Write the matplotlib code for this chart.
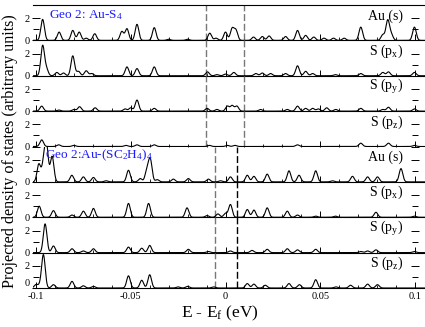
import numpy as np
import matplotlib
matplotlib.use("Agg")
import matplotlib.pyplot as plt
from matplotlib.ticker import MultipleLocator, FixedLocator

plt.rcParams['font.family'] = ['Liberation Serif', 'DejaVu Serif']
plt.rcParams['mathtext.fontset'] = 'custom'
plt.rcParams['mathtext.rm'] = 'Liberation Serif'
plt.rcParams['mathtext.it'] = 'Liberation Serif:italic'

# ---------------- data (peak positions in eV, heights in arb. units) -----------
labels = ["Au (s)", r"S (p$_\mathrm{x}$)", r"S (p$_\mathrm{y}$)", r"S (p$_\mathrm{z}$)"]
group_titles = [r"Geo 2: Au-S$_4$", r"Geo 2:Au-(SC$_2$H$_4$)$_4$"]

# Geo 2: Au-S4
top_au_s_pos = [-0.0965, -0.0878, -0.0806, -0.0772, -0.0735, -0.069, -0.0547, -0.052, -0.0467,
                -0.0376, -0.030, -0.020, -0.0083, -0.005, 0.0, 0.0035, 0.0055, 0.0148, 0.0194,
                0.023, 0.0317, 0.038, 0.0423, 0.0466, 0.052, 0.057, 0.0626, 0.0714, 0.083,
                0.0856, 0.0875, 0.0997]
top_au_s_h = [1.9, 0.75, 0.9, 0.75, 0.2, 0.6, 0.8, 1.05, 1.45,
              1.15, 0.1, 0.1, 0.65, 0.2, 0.75, 1.05, 0.9, 0.3, 0.35,
              0.4, 0.35, 0.9, 0.45, 0.3, 0.2, 0.2, 0.2, 1.2, 0.5,
              1.8, 0.5, 1.2]
top_s_px_pos = [-0.0965, -0.0945, -0.089, -0.0855, -0.0806, -0.0776, -0.0735, -0.0706, -0.052,
                -0.0467, -0.0376, -0.0095, -0.0045, 0.0, 0.0044, 0.016, 0.0194, 0.0238, 0.0317,
                0.038, 0.0423, 0.046, 0.058, 0.0714, 0.083, 0.086, 0.0997]
top_s_px_h = [2.7, 0.6, 0.3, 0.25, 1.8, 0.4, 0.45, 0.2, 0.8,
              0.65, 0.8, 0.35, 0.1, 0.15, 0.3, 0.2, 0.25, 0.2, 0.2,
              0.9, 0.4, 0.2, 0.1, 0.2, 0.3, 0.35, 0.3]
top_s_py_pos = [-0.097, -0.088, -0.08, -0.077, -0.0688, -0.053, -0.05, -0.0467, -0.0376, -0.0097,
                -0.0045, 0.001, 0.0035, 0.006, 0.0185, 0.0326, 0.038, 0.0423, 0.046, 0.049,
                0.0534, 0.0582, 0.0714, 0.083, 0.086, 0.0997]
top_s_py_h = [0.45, 0.1, 0.15, 0.4, 0.3, 0.2, 0.3, 1.0, 0.25, 0.25,
              0.15, 0.45, 0.5, 0.45, 0.15, 0.15, 0.45, 0.25, 0.25, 0.2,
              0.3, 0.15, 0.25, 0.15, 0.35, 0.2]
top_s_pz_pos = [-0.097, -0.088, -0.08, -0.0525, -0.0467, -0.0376, -0.0085, 0.001, 0.005, 0.038,
                0.0714, 0.086, 0.0997]
top_s_pz_h = [0.6, 0.15, 0.1, 0.1, 0.15, 0.15, 0.1, 0.1, 0.1, 0.15,
              0.3, 0.3, 0.1]

# Geo 2: Au-(SC2H4)4
bot_au_s_pos = [-0.0985, -0.096, -0.0945, -0.0915, -0.0811, -0.075, -0.0697, -0.063, -0.0512,
                -0.045, -0.0415, -0.0397, -0.036, -0.0275, -0.0196, -0.009, -0.0026, 0.0026,
                0.0115, 0.015, 0.022, 0.0335, 0.0388, 0.0476, 0.0564, 0.067, 0.075, 0.0802, 0.0926]
bot_au_s_h = [1.6, 1.5, 3.3, 2.3, 0.6, 0.45, 0.4, 0.1, 1.05,
              0.3, 1.0, 2.0, 0.2, 0.25, 0.3, 0.25, 0.1, 0.45,
              0.6, 0.5, 0.7, 1.0, 0.6, 1.0, 0.1, 0.5, 0.45, 0.45, 1.2]
bot_s_px_pos = [-0.0983, -0.0908, -0.081, -0.075, -0.0697, -0.0512, -0.0406, -0.0203, -0.0097,
                -0.004, 0.0, 0.0026, 0.0115, 0.015, 0.022, 0.0326, 0.038, 0.0476, 0.058,
                0.0794, 0.0997]
bot_s_px_h = [1.0, 0.6, 0.2, 0.55, 0.8, 1.25, 1.25, 0.85, 0.15,
              0.3, 0.35, 1.15, 0.7, 0.65, 0.85, 0.55, 0.2, 0.1, 0.1,
              0.45, 0.1]
bot_s_py_pos = [-0.0952, -0.0908, -0.081, -0.075, -0.0697, -0.0512, -0.0442, -0.04, -0.0196,
                -0.009, 0.0026, 0.014, 0.022, 0.0326, 0.038, 0.0476, 0.0714, 0.075, 0.0794, 0.0997]
bot_s_py_h = [2.6, 0.6, 0.35, 0.15, 0.35, 0.5, 0.4, 0.65, 0.3,
              0.1, 0.15, 0.2, 0.3, 0.35, 0.25, 0.3, 0.1, 0.15, 0.25, 0.1]
bot_s_pz_pos = [-0.1, -0.098, -0.0961, -0.0908, -0.081, -0.075, -0.0697, -0.0512, -0.0442, -0.04,
                -0.025, -0.02, -0.0063, 0.0115, 0.015, 0.021, 0.0335, 0.039, 0.0476, 0.0583,
                0.066, 0.075, 0.0802]
bot_s_pz_h = [0.3, 0.2, 3.0, 0.3, 0.6, 0.2, 0.15, 1.1, 0.7, 1.2,
              0.1, 0.15, 0.1, 0.4, 0.35, 0.25, 0.4, 0.3, 0.75, 0.1,
              0.25, 0.35, 0.3]

# dashed reference lines (eV)
top_vlines = [-0.0105, 0.0098]
bot_vlines = [-0.0053, 0.0062]

panels = [(top_au_s_pos, top_au_s_h), (top_s_px_pos, top_s_px_h),
          (top_s_py_pos, top_s_py_h), (top_s_pz_pos, top_s_pz_h),
          (bot_au_s_pos, bot_au_s_h), (bot_s_px_pos, bot_s_px_h),
          (bot_s_py_pos, bot_s_py_h), (bot_s_pz_pos, bot_s_pz_h)]

# ---------------- figure ----------------
W, H = 425, 327
fig = plt.figure(figsize=(W / 100, H / 100), dpi=100)
px_per_ev = 1895.0
ax_left_px, ax_right_px = 33, 425
xmin = -0.1 - 3 / px_per_ev
xmax = xmin + (ax_right_px - ax_left_px) / px_per_ev
top_px, bot_px = 5, 288
ph = (bot_px - top_px) / 8

grid = np.linspace(-0.102, 0.106, 3000)
sigma = 0.00095

for i, (pos, hts) in enumerate(panels):
    y0 = 1 - (top_px + (i + 1) * ph) / H
    ax = fig.add_axes([ax_left_px / W, y0, (ax_right_px - ax_left_px) / W, ph / H])
    ax.patch.set_alpha(0)
    curve = np.zeros_like(grid)
    for c, h in zip(pos, hts):
        curve += h * np.exp(-0.5 * ((grid - c) / sigma) ** 2)
    ax.plot(grid, curve, color='black', lw=0.8, zorder=3)
    ax.set_xlim(xmin, xmax)
    ax.set_ylim(0, 3.2)
    vl = top_vlines if i < 4 else bot_vlines
    colors = ['#777777', '#777777'] if i < 4 else ['#777777', '#000000']
    for v, col in zip(vl, colors):
        ax.axvline(v, color=col, lw=1.0, ls=(0, (5, 2)), zorder=2)
    # spines
    ax.spines['left'].set_color('none')
    ax.spines['right'].set_color('none')
    ax.spines['left'].set_position(('data', -0.1))
    ax.spines['right'].set_position(('data', 0.1))
    if i != 0:
        ax.spines['top'].set_visible(False)
    if i == 3:
        ax.spines['bottom'].set_visible(False)
    for s in ax.spines.values():
        s.set_linewidth(0.8)
    # ticks
    ax.yaxis.set_major_locator(FixedLocator([0, 2]))
    ax.yaxis.set_minor_locator(FixedLocator([1]))
    ax.tick_params(axis='y', which='major', direction='inout', length=6, width=0.7,
                   left=True, right=True, labelsize=7.5, pad=1.5)
    ax.tick_params(axis='y', which='minor', direction='inout', length=4, width=0.7,
                   left=True, right=True)
    ax.xaxis.set_major_locator(MultipleLocator(0.05))
    ax.xaxis.set_minor_locator(FixedLocator(np.round(np.arange(-0.1, 0.1001, 0.01), 3)))
    ax.tick_params(axis='x', which='major', direction='in', length=4, width=0.7,
                   top=False, bottom=True, labelsize=7.5, pad=3)
    ax.tick_params(axis='x', which='minor', direction='in', length=2.5, width=0.6,
                   top=False, bottom=True)
    if i == 7:
        ax.set_xticks([-0.1, -0.05, 0, 0.05, 0.1])
        ax.set_xticklabels(['-0.1', '-0.05', '0', '0.05', '0.1'])
        ax.yaxis.get_major_ticks()[0].label1.set_verticalalignment('bottom')
    else:
        ax.tick_params(axis='x', labelbottom=False)
    ax.text(0.0937, 1.9, labels[i % 4], ha='right', va='baseline', fontsize=10, zorder=5)
    if i == 0:
        ax.text(-0.0931, 1.97, group_titles[0], ha='left', va='baseline', fontsize=9.5,
                color='#1a1aff', zorder=6)
    if i == 4:
        ax.text(-0.0953, 2.15, group_titles[1], ha='left', va='baseline', fontsize=9.5,
                color='#1a1aff', zorder=6)

fig.text(10 / W, 1 - 151 / H, 'Projected density of states (arbitrary units)', rotation=90,
         ha='center', va='center', fontsize=11.6)
fig.text(220 / W, 1 - 313 / H, r'E - E$_\mathrm{f}$ (eV)', ha='center', va='center', fontsize=12.5)

fig.savefig('out.png', dpi=100)
